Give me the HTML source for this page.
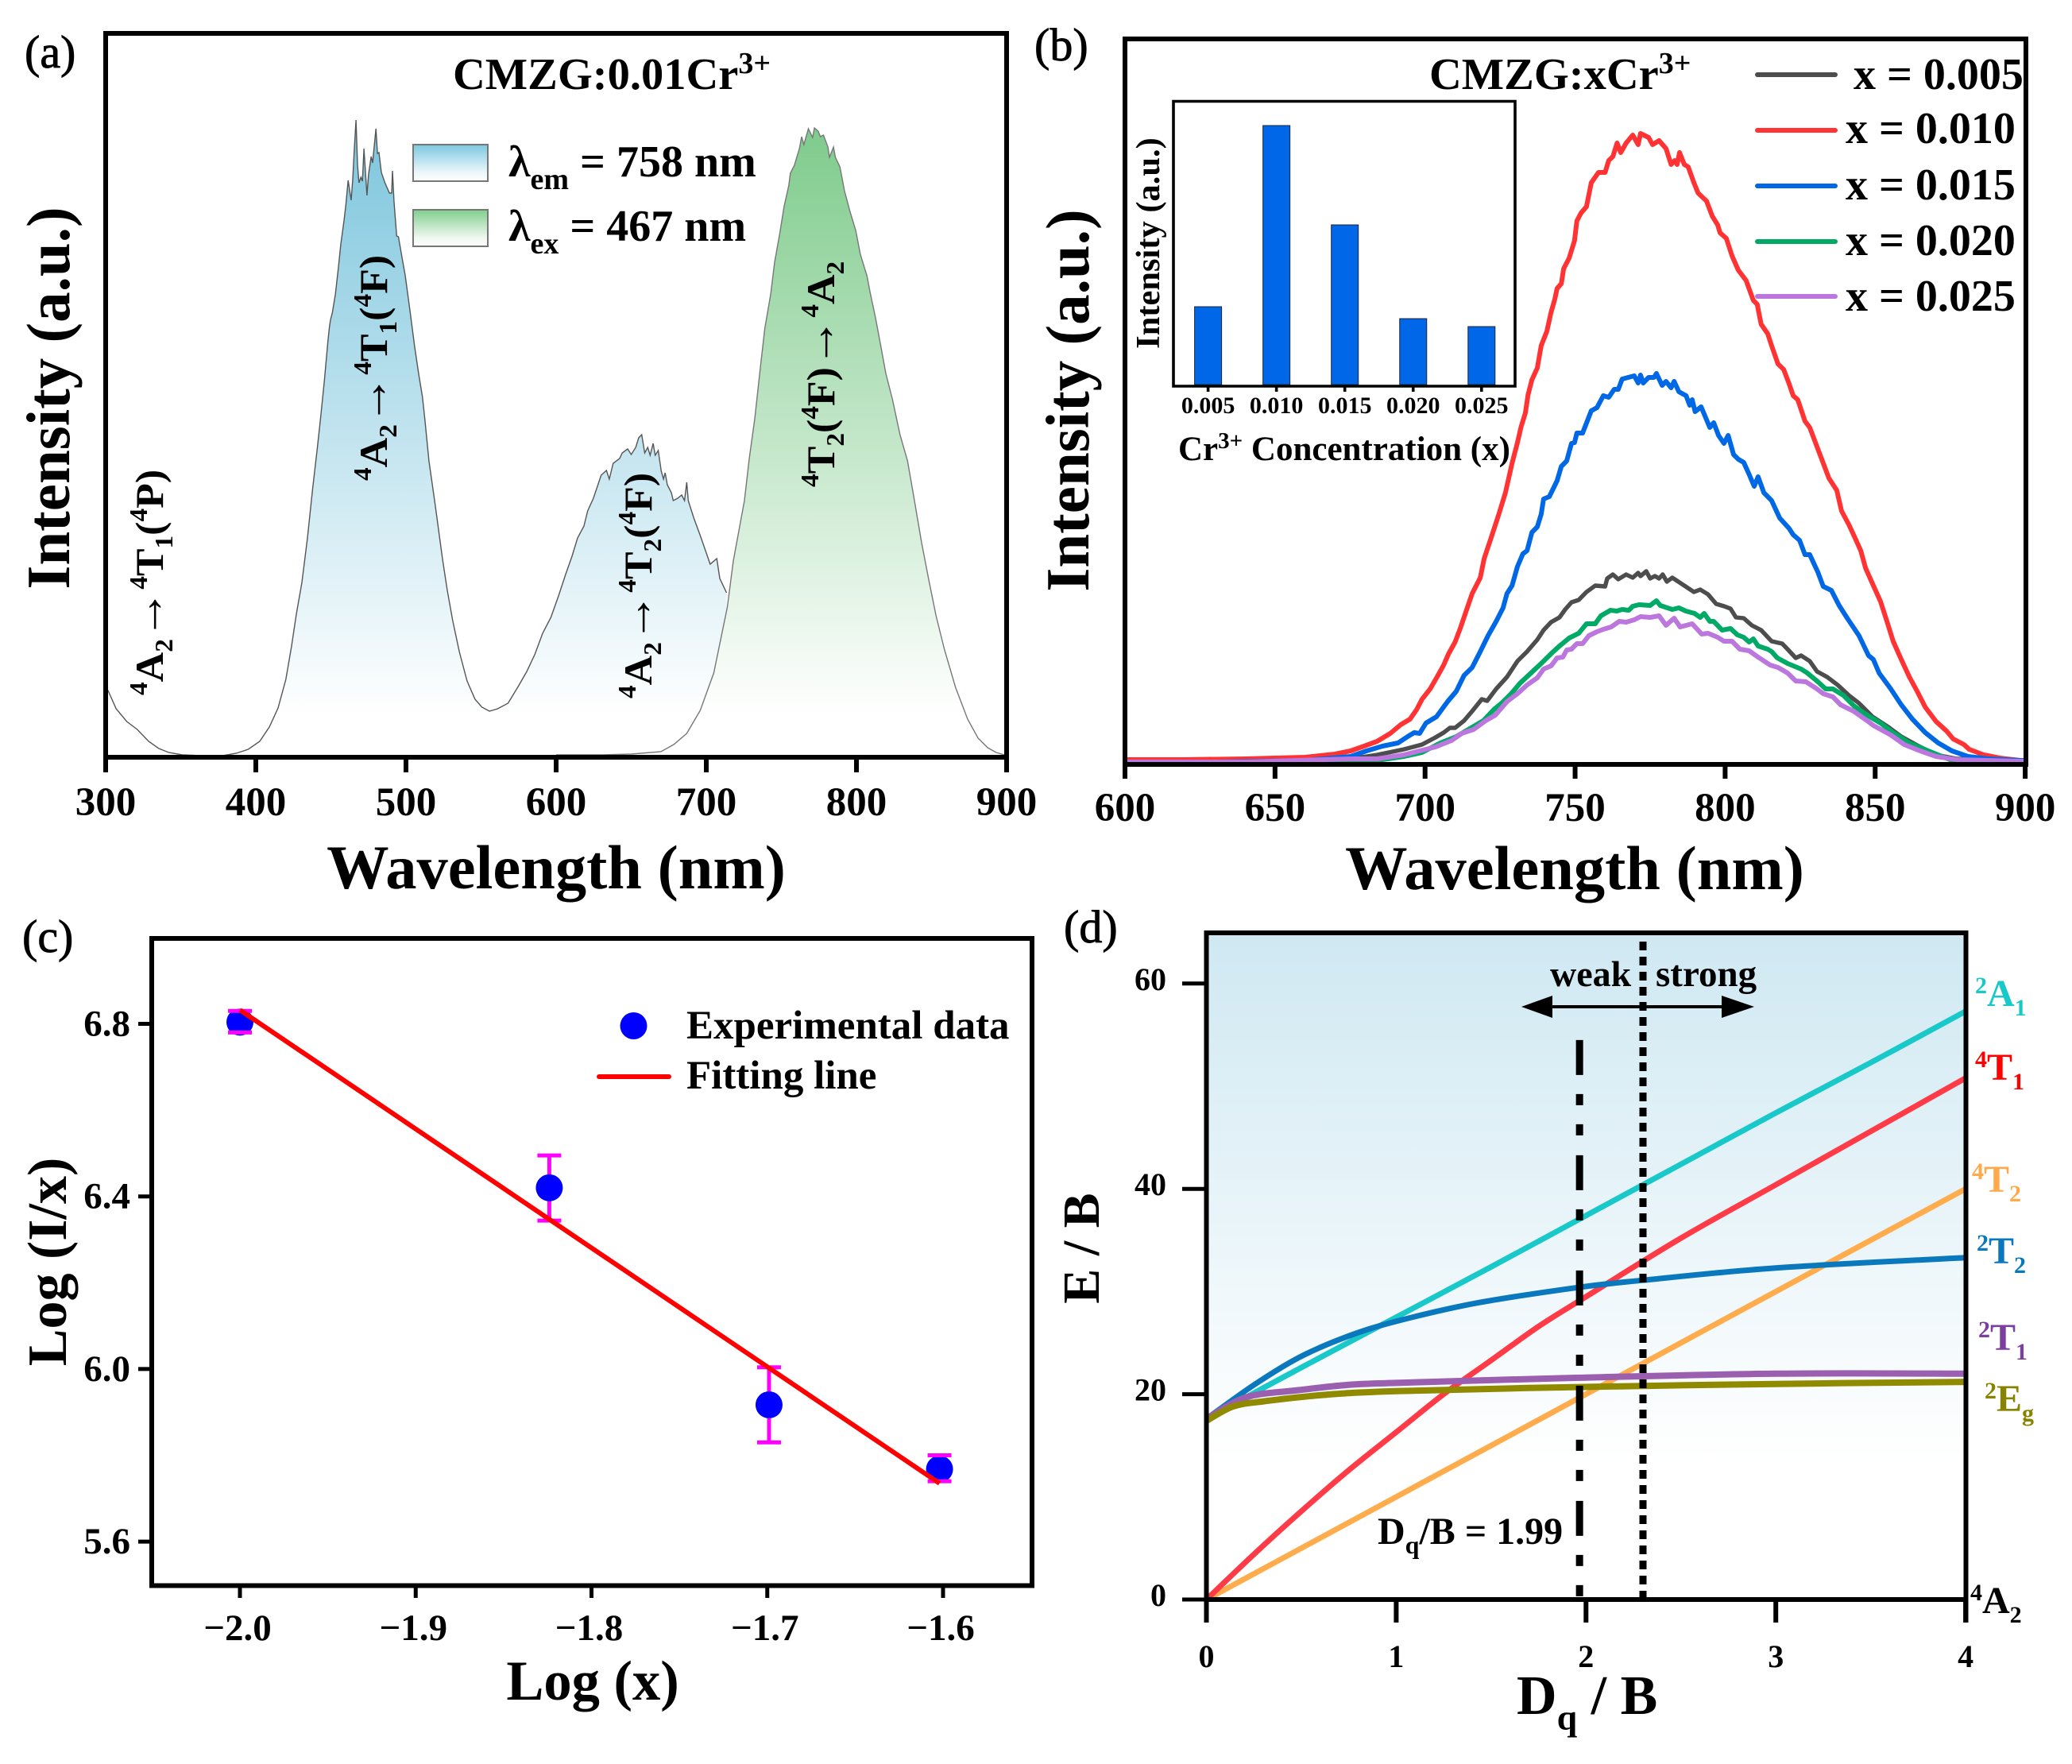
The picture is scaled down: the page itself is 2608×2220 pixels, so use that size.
<!DOCTYPE html>
<html lang="en">
<head>
<meta charset="utf-8">
<title>CMZG:Cr3+ spectra figure</title>
<style>
html,body{margin:0;padding:0;background:#fff;}
svg{display:block;}
text{font-family:"Liberation Serif","Noto Serif CJK SC",serif;font-weight:bold;fill:#000;}
.plab{font-weight:normal;font-size:58px;stroke:#000;stroke-width:0.9px;}
.arw{font-weight:normal;font-size:60px;}
</style>
</head>
<body>
<svg id="fig" xmlns="http://www.w3.org/2000/svg" width="2608" height="2220" viewBox="0 0 2608 2220">
<defs>
<linearGradient id="gradBlue" gradientUnits="userSpaceOnUse" x1="0" y1="150" x2="0" y2="900"><stop offset="0" stop-color="#7cc5dd"/><stop offset="1" stop-color="#ffffff"/></linearGradient>
<linearGradient id="gradGreen" gradientUnits="userSpaceOnUse" x1="0" y1="162" x2="0" y2="900"><stop offset="0" stop-color="#7fcb8c"/><stop offset="1" stop-color="#ffffff"/></linearGradient>
<linearGradient id="patchBlue" x1="0" y1="0" x2="0" y2="1"><stop offset="0" stop-color="#7cc8e0"/><stop offset="0.75" stop-color="#eaf6fa"/><stop offset="1" stop-color="#ffffff"/></linearGradient>
<linearGradient id="patchGreen" x1="0" y1="0" x2="0" y2="1"><stop offset="0" stop-color="#7fcf8c"/><stop offset="0.75" stop-color="#eef7ef"/><stop offset="1" stop-color="#ffffff"/></linearGradient>
<linearGradient id="gradD" gradientUnits="userSpaceOnUse" x1="0" y1="1174" x2="0" y2="1840"><stop offset="0" stop-color="#cfe8f2"/><stop offset="1" stop-color="#ffffff"/></linearGradient>
</defs>
<rect x="0" y="0" width="2608" height="2220" fill="#fff"/>
<g id="panelA"></g>
<g id="panelB"></g>
<g id="panelC"></g>
<g id="panelD"></g>

<g id="staticText">
<!-- Panel a -->
<text class="plab" x="31" y="85">(a)</text>
<text x="570" y="112" font-size="56.5">CMZG:0.01Cr<tspan dy="-20" font-size="38">3+</tspan></text>
<text x="700" y="1118" font-size="78.5" text-anchor="middle">Wavelength (nm)</text>
<text transform="translate(87,501) rotate(-90)" font-size="77" text-anchor="middle">Intensity (a.u.)</text>
<rect x="520" y="182" width="94" height="46" fill="url(#patchBlue)" stroke="#777" stroke-width="2"/>
<rect x="520" y="264" width="94" height="46" fill="url(#patchGreen)" stroke="#777" stroke-width="2"/>
<text x="640" y="222" font-size="56">λ<tspan dy="16" font-size="38">em</tspan><tspan dy="-16"> = 758 nm</tspan></text>
<text x="640" y="303" font-size="56">λ<tspan dy="16" font-size="38">ex</tspan><tspan dy="-16"> = 467 nm</tspan></text>
<text transform="translate(205,875) rotate(-90) scale(1.04,1)" font-size="50"><tspan dy="-20" font-size="32">4</tspan><tspan dy="20">A</tspan><tspan dy="12" font-size="32">2</tspan><tspan dy="-12" class="arw">→</tspan><tspan dy="-20" font-size="32">4</tspan><tspan dy="20">T</tspan><tspan dy="12" font-size="32">1</tspan><tspan dy="-12">(</tspan><tspan dy="-20" font-size="32">4</tspan><tspan dy="20">P)</tspan></text>
<text transform="translate(487,605) rotate(-90) scale(1.04,1)" font-size="50"><tspan dy="-20" font-size="32">4</tspan><tspan dy="20">A</tspan><tspan dy="12" font-size="32">2</tspan><tspan dy="-12" class="arw">→</tspan><tspan dy="-20" font-size="32">4</tspan><tspan dy="20">T</tspan><tspan dy="12" font-size="32">1</tspan><tspan dy="-12">(</tspan><tspan dy="-20" font-size="32">4</tspan><tspan dy="20">F)</tspan></text>
<text transform="translate(820,879) rotate(-90) scale(1.04,1)" font-size="50"><tspan dy="-20" font-size="32">4</tspan><tspan dy="20">A</tspan><tspan dy="12" font-size="32">2</tspan><tspan dy="-12" class="arw">→</tspan><tspan dy="-20" font-size="32">4</tspan><tspan dy="20">T</tspan><tspan dy="12" font-size="32">2</tspan><tspan dy="-12">(</tspan><tspan dy="-20" font-size="32">4</tspan><tspan dy="20">F)</tspan></text>
<text transform="translate(1050,613) rotate(-90) scale(1.04,1)" font-size="50"><tspan dy="-20" font-size="32">4</tspan><tspan dy="20">T</tspan><tspan dy="12" font-size="32">2</tspan><tspan dy="-12">(</tspan><tspan dy="-20" font-size="32">4</tspan><tspan dy="20">F)</tspan><tspan class="arw">→</tspan><tspan dy="-20" font-size="32">4</tspan><tspan dy="20">A</tspan><tspan dy="12" font-size="32">2</tspan></text>

<!-- Panel b -->
<text class="plab" x="1302" y="76">(b)</text>
<text x="1799" y="112" font-size="56.5">CMZG:xCr<tspan dy="-20" font-size="38">3+</tspan></text>
<text x="1982" y="1119" font-size="78.5" text-anchor="middle">Wavelength (nm)</text>
<text transform="translate(1370,504) rotate(-90)" font-size="77" text-anchor="middle">Intensity (a.u.)</text>
<text x="2333" y="112" font-size="56">x = 0.005</text>
<text x="2323" y="180" font-size="56">x = 0.010</text>
<text x="2323" y="251" font-size="56">x = 0.015</text>
<text x="2323" y="321" font-size="56">x = 0.020</text>
<text x="2323" y="391" font-size="56">x = 0.025</text>
<text x="1483" y="579" font-size="43">Cr<tspan dy="-15" font-size="29">3+</tspan><tspan dy="15"> Concentration (x)</tspan></text>
<text transform="translate(1459,306) rotate(-90)" font-size="42.5" text-anchor="middle">Intensity (a.u.)</text>

<!-- Panel c -->
<text class="plab" x="28" y="1198">(c)</text>
<text x="746" y="2139" font-size="70.5" text-anchor="middle">Log (x)</text>
<text transform="translate(83,1588) rotate(-90)" font-size="70" text-anchor="middle">Log (I/x)</text>
<text x="864" y="1307" font-size="51">Experimental data</text>
<text x="864" y="1370" font-size="51">Fitting line</text>

<!-- Panel d -->
<text class="plab" x="1339" y="1186">(d)</text>
<text x="1909" y="2157" font-size="70">D<tspan dy="20" font-size="46">q</tspan><tspan dy="-20"> / B</tspan></text>
<text transform="translate(1383,1571) rotate(-90)" font-size="66" text-anchor="middle">E / B</text>
<text x="1951" y="1241" font-size="46">weak</text>
<text x="2084" y="1241" font-size="47">strong</text>
<text x="1734" y="1943" font-size="48">D<tspan dy="12" font-size="32">q</tspan><tspan dy="-12">/B = 1.99</tspan></text>
<text x="2486" y="1266" font-size="48" style="fill:#19c8c8"><tspan dy="-16" font-size="30">2</tspan><tspan dy="16">A</tspan><tspan dy="12" font-size="30">1</tspan></text>
<text x="2486" y="1359" font-size="48" style="fill:#ff0000"><tspan dy="-16" font-size="30">4</tspan><tspan dy="16">T</tspan><tspan dy="12" font-size="30">1</tspan></text>
<text x="2482" y="1500" font-size="48" style="fill:#ffa94a"><tspan dy="-16" font-size="30">4</tspan><tspan dy="16">T</tspan><tspan dy="12" font-size="30">2</tspan></text>
<text x="2488" y="1590" font-size="48" style="fill:#0a78bc"><tspan dy="-16" font-size="30">2</tspan><tspan dy="16">T</tspan><tspan dy="12" font-size="30">2</tspan></text>
<text x="2490" y="1699" font-size="48" style="fill:#7b3fa0"><tspan dy="-16" font-size="30">2</tspan><tspan dy="16">T</tspan><tspan dy="12" font-size="30">1</tspan></text>
<text x="2498" y="1776" font-size="48" style="fill:#878300"><tspan dy="-16" font-size="30">2</tspan><tspan dy="16">E</tspan><tspan dy="12" font-size="30">g</tspan></text>
<text x="2480" y="2030" font-size="48"><tspan dy="-16" font-size="30">4</tspan><tspan dy="16">A</tspan><tspan dy="12" font-size="30">2</tspan></text>
</g>
</svg>

<script>
/* ---------- Panel (a) data ---------- */
const excitationWavelength = [300,301.6,307,314,321,328.6,335.4,342,351,364,378,387,395,402.6,409,414.8,420,423.8,427,430.7,434.4,437.7,441,442.9,445.6,448,449,449.7,451,453,455,456.6,458.8,460,461.5,463.5,464.5,465.6,466.7,467.7,468.7,470,471,472,474,475,476.8,477.8,480,481,482,483.6,486,489,490.5,491,492,493.8,495,497,499.5,502.6,505.8,508.4,511,512.7,515.3,519.6,524.3,527.5,531,535.5,540.7,546,550.6,555.6,561,568,575,580.5,585.9,591,596.5,601.6,606.3,610.6,614.3,618.5,621,624.8,630,633.5,635.4,638,642.3,644,647.6,650,653,655,657,659,661,662.6,664.6,666,668,670,671.5,672.6,674,676.7,678,681,683.6,685.5,687,688,691.7,696,702.6,707,709,713.5,715];
const excitationIntensity = [87,84,61,45,35,20,11,6,3,2,2,5,10,20,38,62,98,140,180,220,276,336,390,423,473,523,541,550,560,583,616,646,676,696,726,701,726,766,802,746,723,730,725,766,707,733,756,748,791,760,761,736,723,710,710,738,700,656,655,633,606,563,516,483,453,423,373,316,250,210,173,133,96,73,63,58,61,68,90,108,130,156,176,203,230,253,276,291,310,326,355,361,350,370,376,383,388,381,390,402,406,383,390,380,395,380,386,360,350,358,343,333,323,326,330,323,346,323,301,279,243,250,225,207,0];
const emissionWavelength = [600,630,650,669.8,678.3,687,696,705,714,718,725.4,728.6,732.3,736,739,742.9,745.5,749,751.8,755,756,758.7,762,763.5,765,768,770.8,772,774.5,776,778,781,782,784.7,786,789,792,795.8,799.5,802.6,807,809,812.7,816,819.6,824,829,834,838,843.4,848,853,858.7,866,874,881,887.4,893,898.6,900];
const emissionIntensity = [3,3,4,7,16,30,59,106,189,247,323,376,426,490,540,583,623,660,693,720,735,745,766,781,771,791,780,792,788,781,783,768,755,768,755,743,713,686,663,633,606,586,553,520,483,450,406,373,330,270,225,178,135,88,48,24,12,6,3,2];
const xTicksA = [300,400,500,600,700,800,900];

/* ---------- Panel (b) data ---------- */
const wlRed = [600,620,640,660,670,675.2,679.7,684,688.4,691.9,695,697.2,699,701.7,704.3,706.2,707.8,710,711.8,713.6,715.7,718.4,719.7,722,724.6,726.8,729,730.8,732,733.4,734.3,735.6,737.4,738.7,740.6,742,743.2,744,745.4,746.2,748,749.8,750.6,752,753.8,755.4,757.8,760,761.2,762.6,764,765.2,767,769.2,771,771.8,774.5,775.8,778,780.3,782,783.2,784,784.8,786.4,787.7,789.6,791,793.8,795.7,797.5,798.3,800.4,802.3,804.4,807,809.4,810.7,812,814.2,815.5,817.6,819.5,821.3,822.7,824.2,826.6,828.2,834.6,837.2,838.8,841.2,843.3,845.2,846.8,849.4,851.8,854,856,858.7,861.4,864,866.7,870.3,873.8,876,879.6,881.3,886.2,891.5,898.4,900];
const valRed = [6,6,7,9,13,17,23,29,39,50,57,69,82,95,112,125,139,154,172,192,215,235,259,285,315,342,379,405,425,442,465,484,499,527,545,569,585,599,605,624,637,659,684,694,702,732,745,745,760,765,782,770,782,792,780,794,789,780,785,775,755,760,755,770,755,752,732,719,709,690,679,669,662,640,622,609,584,579,554,542,527,504,497,479,464,459,432,424,360,345,319,302,285,269,247,225,205,179,155,132,110,92,72,54,42,32,25,19,12,8,5,5];
const wlBlue = [600,630,660,675.2,680.5,685.8,691,694.2,696.4,698.2,700.3,703.8,707.5,710.4,713,715.7,718.4,721,723.7,726,727.3,729,730.8,732.6,734,735.6,737.4,738.7,739.5,741.4,744,745.4,747.2,748.8,749.8,750.6,752.5,755.4,757.3,759.4,761.2,763,764.4,765.7,769.7,771,771.8,772.7,774.5,776.3,777.1,779,780.3,782,783,784.6,787,788.2,789,790,792,794.9,796.2,797.8,799.6,801,802.8,804.4,806.2,808,809.7,811,812.9,815.5,818.2,821.3,822.7,824.8,826.6,828.2,830.9,832.7,835.4,838,840.7,844.6,847.8,849.4,851.3,855.2,858.7,862.4,866.7,871,875.6,880.9,887.8,898.4,900];
const valBlue = [3,3,5,10,17,23,27,35,40,39,52,60,79,92,112,122,142,162,180,197,215,225,249,265,269,292,299,315,334,337,357,375,382,404,405,417,417,445,449,464,462,472,472,485,489,480,490,480,487,487,492,477,482,474,482,469,464,452,459,444,450,424,430,414,404,414,390,384,380,365,350,362,342,332,310,297,289,282,264,264,242,224,219,200,184,162,137,132,115,95,75,57,40,27,17,10,7,5,5];
const wlGray = [600,640,675.2,684,693,699,703.5,706.2,708.3,710,713,715.7,718.9,720.7,723.7,727.3,730.8,734,737.4,739.5,742,744.8,746.7,748.8,751.2,753.8,756.7,760,760.7,762.6,764.4,767,769.2,771,771.8,773.7,775,776.6,778,779.2,780.6,782.4,785.6,789.6,791.7,794.3,797,799.7,801.8,803.6,806.2,808.9,812,815.5,819,820.8,823.5,825.3,828.2,830.6,834,837.5,841.2,844.6,849.1,854.4,858.7,864,870.3,877.2,898,900];
const valGray = [3,3,7,12,19,25,34,40,46,46,55,67,82,80,95,110,130,142,157,169,179,185,195,204,207,217,225,224,234,239,233,239,235,241,237,243,234,237,234,239,230,235,227,217,220,214,202,199,196,185,184,175,169,155,152,145,134,137,130,117,110,100,87,77,60,47,35,24,12,7,5,5];
const wlGreen = [600,640,670,684,693,699,705.1,710.4,714.9,719.4,722.9,725.5,728.7,731.6,735.3,738.7,742.2,744.8,748,751.2,753.8,756.7,758.6,761.8,763.9,765.7,767.9,769.2,771.3,775,777.1,778.4,782.4,784.6,786.9,789.8,791.7,793,794.9,796.2,799,801.8,804.1,806.2,808,809.4,811,814.2,815.5,817.4,820.8,825.3,827.4,830.6,833.5,835.9,839.4,842.8,847.3,851.8,856,861.4,867.7,875.6,898,900];
const valGreen = [2,2,3,5,10,15,27,35,45,55,69,77,89,102,115,127,140,149,159,165,177,177,187,194,193,195,194,199,201,200,206,200,195,197,193,190,185,190,180,180,169,171,163,160,154,158,149,145,142,134,127,120,115,105,95,95,87,74,62,52,40,27,17,5,3,3];
const wlPurple = [600,640,675,684,693,698.2,703.5,708.8,712.2,716.2,720.2,723.4,727.3,730.8,734,737.4,739.5,742,744,745.9,747.2,748.8,750.6,752.5,754.6,757.3,759.4,762,764.7,767,769.7,771.8,775,778,780.3,783,785,789,792.2,794.3,797.5,799.6,802.3,804.9,808,811,815,817.6,820.8,823.5,826.9,830.6,832.7,835.9,838.5,842.8,847.3,849.4,855.2,859.7,865,870.3,877.2,898,900];
const valPurple = [3,3,7,7,12,17,22,30,39,44,55,62,79,89,100,109,120,124,134,135,144,145,152,152,162,167,170,173,180,179,182,186,185,187,175,184,173,177,164,165,160,155,155,145,143,135,125,122,115,105,104,95,89,85,75,67,55,49,37,25,17,10,6,4,4];
const xTicksB = [600,650,700,750,800,850,900];
const insetCategories = ['0.005','0.010','0.015','0.020','0.025'];
const insetValues = [98,326,201,83,73];

/* ---------- Panel (c) data ---------- */
const logX = [-2.0,-1.824,-1.699,-1.602];
const logIx = [6.804,6.42,5.917,5.768];
const errHigh = [6.83,6.495,6.004,5.80];
const errLow = [6.78,6.344,5.83,5.74];
const fitX = [-2.0,-1.602];
const fitY = [6.832,5.735];
const xTicksC = [-2.0,-1.9,-1.8,-1.7,-1.6];
const yTicksC = [6.8,6.4,6.0,5.6];

/* ---------- Panel (d) data ---------- */
const dqA1 = [0,0.5,1,1.5,2,2.5,3,3.5,4];
const eA1 = [17.6,22.6,27.5,32.4,37.4,42.4,47.4,52.3,57.3];
const dqT1 = [0,0.25,0.5,0.75,1,1.25,1.5,1.75,2,2.5,3,3.5,4];
const eT1 = [0,4.4,8.6,12.6,16.3,20,23.3,26.6,29.5,35.2,40.4,45.6,50.8];
const dqT2 = [0,1,2,3,4];
const eT2 = [0,10,20,30,40];
const dqT22 = [0,0.25,0.49,0.74,1,1.43,1.96,2.3,3,4];
const eT22 = [17.6,20.9,23.6,25.6,27.1,28.9,30.4,31.1,32.3,33.3];
const dqT21 = [0,0.21,0.49,0.74,1,1.96,3,4];
const eT21 = [17.6,19.7,20.4,20.9,21.1,21.6,22,22];
const dqEg = [0,0.14,0.3,0.6,1,1.96,3,4];
const eEg = [17.4,18.8,19.3,19.9,20.3,20.7,21,21.2];
const xTicksD = [0,1,2,3,4];
const yTicksD = [0,20,40,60];
const dqCalc = [1.966,1.966];
const eCalc = [0,54.5];
const dqCross = [2.3,2.3];
const eCross = [0,65];

/* ---------- Axis functions ---------- */
const xA = v => 133 + (v - 300) * 1.89;
const yA = v => 953 - v;
const xB = v => 1416 + (v - 600) * 3.777;
const yB = v => 962 - v;
const xInset = i => 1520.6 + i * 86.05;
const yInset = v => 484 - v;
const xC = v => 302 + (v + 2) * 2212.5;
const yC = v => 1288.5 + (6.8 - v) * 543;
const xD = v => 1518.5 + v * 238.9;
const yD = v => 2013 - v * 12.92;

const NS = 'http://www.w3.org/2000/svg';
function mk(parent, tag, attrs, txt) {
  const el = document.createElementNS(NS, tag);
  for (const k in attrs) el.setAttribute(k, attrs[k]);
  if (txt !== undefined) el.textContent = txt;
  parent.appendChild(el);
  return el;
}
function pathOf(xs, ys, xf, yf) {
  return xs.map((v, i) => (i ? 'L' : 'M') + xf(v).toFixed(1) + ' ' + yf(ys[i]).toFixed(1)).join(' ');
}
function smoothOf(xs, ys, xf, yf) {
  const p = xs.map((v, i) => [xf(v), yf(ys[i])]);
  let d = 'M' + p[0][0].toFixed(1) + ' ' + p[0][1].toFixed(1);
  for (let i = 0; i < p.length - 1; i++) {
    const a = p[Math.max(0, i - 1)], b = p[i], c = p[i + 1], e = p[Math.min(p.length - 1, i + 2)];
    d += ' C' + (b[0] + (c[0] - a[0]) / 6).toFixed(1) + ' ' + (b[1] + (c[1] - a[1]) / 6).toFixed(1) + ' ' +
      (c[0] - (e[0] - b[0]) / 6).toFixed(1) + ' ' + (c[1] - (e[1] - b[1]) / 6).toFixed(1) + ' ' +
      c[0].toFixed(1) + ' ' + c[1].toFixed(1);
  }
  return d;
}

/* ---------- Panel a ---------- */
const gA = document.getElementById('panelA');
const blueFill = mk(gA, 'path', {d: pathOf(excitationWavelength, excitationIntensity, xA, yA) + ' L' + xA(715) + ' ' + yA(0) + ' L' + xA(300) + ' ' + yA(0) + ' Z', fill: 'url(#gradBlue)', stroke: 'none'});


const blueLine = mk(gA, 'path', {d: pathOf(excitationWavelength.slice(0, -1), excitationIntensity.slice(0, -1), xA, yA), fill: 'none', stroke: '#555', 'stroke-width': 1.4});


const greenFill = mk(gA, 'path', {d: pathOf(emissionWavelength, emissionIntensity, xA, yA) + ' L' + xA(900) + ' ' + yA(0) + ' L' + xA(600) + ' ' + yA(0) + ' Z', fill: 'url(#gradGreen)', stroke: 'none'});


const greenLine = mk(gA, 'path', {d: pathOf(emissionWavelength, emissionIntensity, xA, yA), fill: 'none', stroke: '#777', 'stroke-width': 1.4});


const frameA = mk(gA, 'rect', {x: 133, y: 42, width: 1134, height: 911, fill: 'none', stroke: '#000', 'stroke-width': 6});


xTicksA.forEach(t => {
  const tick = mk(gA, 'line', {x1: xA(t), x2: xA(t), y1: 953, y2: 972, stroke: '#000', 'stroke-width': 6});
  
  
  const lab = mk(gA, 'text', {x: xA(t), y: 1026, 'font-size': 51, 'text-anchor': 'middle'}, String(t));
  
  
});

/* ---------- Panel b ---------- */
const gB = document.getElementById('panelB');
const lineGray = mk(gB, 'path', {d: pathOf(wlGray, valGray, xB, yB), fill: 'none', stroke: '#4d4d4d', 'stroke-width': 5.4, 'stroke-linejoin': 'round'});


const lineRed = mk(gB, 'path', {d: pathOf(wlRed, valRed, xB, yB), fill: 'none', stroke: '#ff3333', 'stroke-width': 6, 'stroke-linejoin': 'round'});


const lineBlue = mk(gB, 'path', {d: pathOf(wlBlue, valBlue, xB, yB), fill: 'none', stroke: '#0068e4', 'stroke-width': 6, 'stroke-linejoin': 'round'});


const lineGreen = mk(gB, 'path', {d: pathOf(wlGreen, valGreen, xB, yB), fill: 'none', stroke: '#00aa66', 'stroke-width': 6, 'stroke-linejoin': 'round'});


const linePurple = mk(gB, 'path', {d: pathOf(wlPurple, valPurple, xB, yB), fill: 'none', stroke: '#bb77dd', 'stroke-width': 6, 'stroke-linejoin': 'round'});


const frameB = mk(gB, 'rect', {x: 1416, y: 49, width: 1134, height: 913, fill: 'none', stroke: '#000', 'stroke-width': 6});


xTicksB.forEach(t => {
  const tick = mk(gB, 'line', {x1: xB(t), x2: xB(t), y1: 962, y2: 980, stroke: '#000', 'stroke-width': 6});
  
  
  const lab = mk(gB, 'text', {x: xB(t), y: 1033, 'font-size': 51, 'text-anchor': 'middle'}, String(t));
  
  
});
const legendColors = ['#4d4d4d', '#ff3333', '#0068e4', '#00aa66', '#bb77dd'];
const legendRows = [94, 164, 234, 304, 373];
legendRows.forEach((y, i) => {
  const s = mk(gB, 'line', {x1: 2212, x2: 2310, y1: y, y2: y, stroke: legendColors[i], 'stroke-width': 6, 'stroke-linecap': 'round'});
  
  
});
/* inset */
const insetFrame = mk(gB, 'path', {d: 'M1477 127.5 H1907 V486 H1477 Z', fill: '#fff', stroke: '#000', 'stroke-width': 3.6});


insetCategories.forEach((c, i) => {
  const bar = mk(gB, 'rect', {x: xInset(i) - 17, y: yInset(insetValues[i]), width: 34, height: insetValues[i], fill: '#0068e8', stroke: '#223', 'stroke-width': 1});
  
  
  const tk = mk(gB, 'line', {x1: xInset(i), x2: xInset(i), y1: 486, y2: 493, stroke: '#000', 'stroke-width': 3.6});
  
  
  const lab = mk(gB, 'text', {x: xInset(i), y: 520, 'font-size': 30, 'text-anchor': 'middle'}, c);
  
  
});

/* ---------- Panel c ---------- */
const gC = document.getElementById('panelC');
const frameC = mk(gC, 'rect', {x: 191, y: 1181, width: 1108, height: 814.5, fill: 'none', stroke: '#000', 'stroke-width': 6});


xTicksC.forEach(t => {
  const tick = mk(gC, 'line', {x1: xC(t), x2: xC(t), y1: 1995, y2: 2011, stroke: '#000', 'stroke-width': 5});
  
  
  const lab = mk(gC, 'text', {x: xC(t) - 3, y: 2064, 'font-size': 47, 'text-anchor': 'middle'}, '\u2212' + Math.abs(t).toFixed(1));
  
  
});
yTicksC.forEach(t => {
  const tick = mk(gC, 'line', {x1: 174, x2: 191, y1: yC(t), y2: yC(t), stroke: '#000', 'stroke-width': 5});
  
  
  const lab = mk(gC, 'text', {x: 164, y: yC(t) + 15, 'font-size': 47, 'text-anchor': 'end'}, t.toFixed(1));
  
  
});
logX.forEach((v, i) => {
  const x = xC(v);
  const ebStem = mk(gC, 'line', {x1: x, x2: x, y1: yC(errHigh[i]), y2: yC(errLow[i]), stroke: '#ff00ff', 'stroke-width': 5});
  
  
  const dot = mk(gC, 'circle', {cx: x, cy: yC(logIx[i]), r: 17, fill: '#0000ff'});
  
  
  const caps = mk(gC, 'path', {d: 'M' + (x - 15) + ' ' + yC(errHigh[i]) + ' H' + (x + 15) + ' M' + (x - 15) + ' ' + yC(errLow[i]) + ' H' + (x + 15), fill: 'none', stroke: '#ff00ff', 'stroke-width': 5});
  
  
});
const fit = mk(gC, 'path', {d: pathOf(fitX, fitY, xC, yC), fill: 'none', stroke: '#ff0000', 'stroke-width': 6});


const legDot = mk(gC, 'circle', {cx: 797.5, cy: 1291, r: 17, fill: '#0000ff'});


const legLine = mk(gC, 'line', {x1: 754, x2: 842, y1: 1355, y2: 1355, stroke: '#ff0000', 'stroke-width': 6, 'stroke-linecap': 'round'});



/* ---------- Panel d ---------- */
const gD = document.getElementById('panelD');
const bgD = mk(gD, 'rect', {x: 1518.5, y: 1174, width: 955.5, height: 839, fill: 'url(#gradD)'});


const termOrange = mk(gD, 'path', {d: smoothOf(dqT2, eT2, xD, yD), fill: 'none', stroke: '#ffac4d', 'stroke-width': 7});


const termRed = mk(gD, 'path', {d: smoothOf(dqT1, eT1, xD, yD), fill: 'none', stroke: '#ff3b47', 'stroke-width': 7});


const termCyan = mk(gD, 'path', {d: smoothOf(dqA1, eA1, xD, yD), fill: 'none', stroke: '#19c8c8', 'stroke-width': 7});


const termBlue = mk(gD, 'path', {d: smoothOf(dqT22, eT22, xD, yD), fill: 'none', stroke: '#0a78bc', 'stroke-width': 7});


const termPurple = mk(gD, 'path', {d: smoothOf(dqT21, eT21, xD, yD), fill: 'none', stroke: '#9b5fb0', 'stroke-width': 8});


const termOlive = mk(gD, 'path', {d: smoothOf(dqEg, eEg, xD, yD), fill: 'none', stroke: '#8f8a00', 'stroke-width': 8});


const calcLine = mk(gD, 'path', {d: pathOf(dqCalc, eCalc, xD, yD), fill: 'none', stroke: '#000', 'stroke-width': 9, 'stroke-dasharray': '44 24 14 24 14 25', 'stroke-dashoffset': 0, transform: 'rotate(180 ' + xD(1.966) + ' ' + ((yD(0) + yD(54.5)) / 2) + ')'});


const crossLine = mk(gD, 'path', {d: pathOf(dqCross, eCross, xD, yD), fill: 'none', stroke: '#000', 'stroke-width': 9, 'stroke-dasharray': '11 8'});


const arrowShaft = mk(gD, 'line', {x1: 1945, x2: 2175, y1: 1267, y2: 1267, stroke: '#000', 'stroke-width': 4});


const arrowL = mk(gD, 'polygon', {points: '1915,1267 1954,1253 1954,1281', fill: '#000'});


const arrowR = mk(gD, 'polygon', {points: '2208,1267 2167,1253 2167,1281', fill: '#000'});


const axesD = mk(gD, 'path', {d: 'M1518.5 2042 V1174 H2474.5 V2042 M1518.5 2013 H2474.5', fill: 'none', stroke: '#000', 'stroke-width': 6});


xTicksD.forEach(t => {
  const tick = mk(gD, 'line', {x1: xD(t), x2: xD(t), y1: 2013, y2: 2042, stroke: '#000', 'stroke-width': 6});
  
  
  const lab = mk(gD, 'text', {x: xD(t), y: 2098, 'font-size': 40, 'text-anchor': 'middle'}, String(t));
  
  
});
yTicksD.forEach(t => {
  const tick = mk(gD, 'line', {x1: 1488, x2: 1518, y1: yD(t), y2: yD(t), stroke: '#000', 'stroke-width': 5});
  
  
  const lab = mk(gD, 'text', {x: 1468, y: yD(t) + 8, 'font-size': 40, 'text-anchor': 'end'}, String(t));
  
  
});
</script>
</body>
</html>
